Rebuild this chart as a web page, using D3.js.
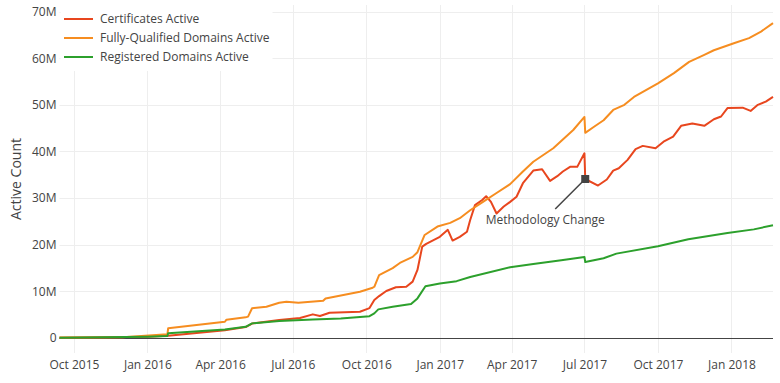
<!DOCTYPE html>
<html>
<head>
<meta charset="utf-8">
<script src="https://cdn.jsdelivr.net/npm/d3@7"></script>
<style>
  html, body { margin: 0; padding: 0; background: #fff; }
  svg { display: block; font-family: "Open Sans", "Noto Sans", sans-serif; }
</style>
</head>
<body>
<svg id="chart" width="780" height="383"></svg>
<script>
// ---------------- DATA (values in millions) ----------------
const certDates = ["2015-09-13","2016-01-01","2016-01-27","2016-04-07","2016-05-03","2016-05-11","2016-06-14","2016-07-10","2016-07-26","2016-08-04","2016-08-16","2016-09-23","2016-10-05","2016-10-11","2016-10-17","2016-10-26","2016-11-07","2016-11-20","2016-11-28","2016-12-04","2016-12-10","2016-12-15","2017-01-01","2017-01-11","2017-01-17","2017-01-26","2017-02-04","2017-02-08","2017-02-14","2017-02-23","2017-02-28","2017-03-06","2017-03-13","2017-03-22","2017-03-30","2017-04-07","2017-04-15","2017-04-28","2017-05-09","2017-05-19","2017-05-28","2017-06-04","2017-06-13","2017-06-22","2017-07-01","2017-07-02","2017-07-18","2017-07-29","2017-08-06","2017-08-13","2017-08-24","2017-09-03","2017-09-12","2017-09-28","2017-10-08","2017-10-20","2017-10-30","2017-11-13","2017-11-28","2017-12-10","2017-12-19","2017-12-27","2018-01-15","2018-01-25","2018-02-03","2018-02-13","2018-02-22"];
const certValues = [0.05,0.3,0.5,1.7,2.36,3.1,3.86,4.3,5.08,4.72,5.42,5.64,6.43,8.15,9.0,10.1,10.9,11.0,12.1,14.6,19.6,20.2,21.7,23.2,20.9,21.7,22.8,25.3,28.5,29.6,30.4,29.2,26.7,28.2,29.2,30.3,33.2,35.9,36.2,33.7,34.7,35.7,36.7,36.7,39.6,34.1,32.7,34.0,35.9,36.4,38.2,40.5,41.2,40.7,42.1,43.2,45.5,46.0,45.5,46.9,47.5,49.3,49.4,48.7,50.0,50.7,51.7];

const fqdnDates = ["2015-09-13","2015-12-01","2016-01-26","2016-01-27","2016-04-07","2016-04-09","2016-05-03","2016-05-06","2016-05-11","2016-05-29","2016-06-14","2016-06-23","2016-07-08","2016-08-08","2016-08-11","2016-09-23","2016-10-09","2016-10-11","2016-10-17","2016-11-03","2016-11-12","2016-11-28","2016-12-04","2016-12-13","2016-12-29","2017-01-14","2017-01-26","2017-02-08","2017-02-24","2017-03-13","2017-03-30","2017-04-15","2017-04-28","2017-05-23","2017-06-17","2017-07-01","2017-07-02","2017-07-13","2017-07-25","2017-08-06","2017-08-20","2017-09-01","2017-10-01","2017-10-21","2017-11-09","2017-11-28","2017-12-10","2018-01-04","2018-01-23","2018-02-07","2018-02-22"];
const fqdnValues = [0.1,0.2,0.8,2.1,3.5,3.95,4.44,4.6,6.4,6.7,7.57,7.8,7.57,8.0,8.5,9.93,10.8,11.0,13.5,15.0,16.1,17.4,18.4,22.1,23.9,24.7,25.7,27.4,29.2,31.1,33.0,35.7,37.8,40.7,44.6,47.4,44.0,45.3,46.7,48.9,50.0,51.7,54.6,56.8,59.2,60.7,61.7,63.2,64.3,65.7,67.5];

const regDates = ["2015-09-13","2016-01-01","2016-01-26","2016-01-27","2016-04-07","2016-05-03","2016-05-11","2016-06-14","2016-07-26","2016-08-30","2016-10-05","2016-10-11","2016-10-16","2016-11-03","2016-11-26","2016-12-04","2016-12-14","2017-01-01","2017-01-22","2017-02-08","2017-03-30","2017-04-28","2017-06-02","2017-07-01","2017-07-02","2017-07-25","2017-08-10","2017-10-01","2017-11-08","2017-12-27","2018-01-29","2018-02-22"];
const regValues = [0.05,0.3,0.45,1.05,1.86,2.42,3.15,3.64,4.0,4.2,4.7,5.3,6.15,6.7,7.3,8.5,11.1,11.7,12.2,13.1,15.2,15.9,16.7,17.4,16.3,17.1,18.1,19.7,21.2,22.5,23.3,24.2];

const seriesNames = ["Certificates Active", "Fully-Qualified Domains Active", "Registered Domains Active"];
const seriesColors = ["#e8461e", "#f68d20", "#2ca02c"];

const xTickDates = ["2015-10-01","2016-01-01","2016-04-01","2016-07-01","2016-10-01","2017-01-01","2017-04-01","2017-07-01","2017-10-01","2018-01-01"];
const xTickLabels = ["Oct 2015","Jan 2016","Apr 2016","Jul 2016","Oct 2016","Jan 2017","Apr 2017","Jul 2017","Oct 2017","Jan 2018"];
const yTickValues = [0,10,20,30,40,50,60,70];
const yTickLabels = ["0","10M","20M","30M","40M","50M","60M","70M"];

const annotationDate = "2017-07-02";
const annotationValue = 34.1;
const annotationText = "Methodology Change";
const yTitle = "Active Count";

// ---------------- CHART ----------------
const parse = d3.utcParse("%Y-%m-%d");
const svg = d3.select("#chart");
const M = { left: 59.5, right: 773, top: 5, bottom: 353 };

const x = d3.scaleUtc()
  .domain([parse("2015-09-13"), parse("2018-02-22")])
  .range([M.left, M.right]);
const y = d3.scaleLinear()
  .domain([-3.2, 71.4])
  .range([M.bottom, M.top]);

const textColor = "#444";

// gridlines
const gx = svg.append("g").attr("class", "grid-x");
gx.selectAll("line").data(xTickDates.map(parse)).join("line")
  .attr("x1", d => Math.round(x(d)) + 0.5).attr("x2", d => Math.round(x(d)) + 0.5)
  .attr("y1", M.top).attr("y2", M.bottom)
  .attr("stroke", "#eee").attr("stroke-width", 1);
const gy = svg.append("g").attr("class", "grid-y");
gy.selectAll("line").data(yTickValues.filter(v => v !== 0)).join("line")
  .attr("x1", M.left).attr("x2", M.right)
  .attr("y1", d => Math.round(y(d)) + 0.5).attr("y2", d => Math.round(y(d)) + 0.5)
  .attr("stroke", "#eee").attr("stroke-width", 1);

// zero line
svg.append("line")
  .attr("x1", M.left).attr("x2", M.right)
  .attr("y1", Math.round(y(0)) + 0.5).attr("y2", Math.round(y(0)) + 0.5)
  .attr("stroke", "#444").attr("stroke-width", 1);

// axes (tick labels only, via d3 axes)
const xAxis = d3.axisBottom(x)
  .tickValues(xTickDates.map(parse))
  .tickFormat((d, i) => xTickLabels[i])
  .tickSize(0).tickPadding(0);
const xg = svg.append("g").attr("transform", `translate(0, ${M.bottom})`).call(xAxis);
xg.select(".domain").remove();
xg.selectAll("text").attr("fill", textColor).attr("font-size", 12)
  .attr("font-family", "'Open Sans', sans-serif").attr("dy", "15.5px");

const yAxis = d3.axisLeft(y)
  .tickValues(yTickValues)
  .tickFormat((d, i) => yTickLabels[i])
  .tickSize(0).tickPadding(3);
const yg = svg.append("g").attr("transform", `translate(${M.left}, 0)`).call(yAxis);
yg.select(".domain").remove();
yg.selectAll("text").attr("fill", textColor).attr("font-size", 12)
  .attr("font-family", "'Open Sans', sans-serif");

// y title
svg.append("text")
  .attr("transform", `translate(21, ${(M.top + M.bottom) / 2}) rotate(-90)`)
  .attr("text-anchor", "middle")
  .attr("fill", textColor).attr("font-size", 14)
  .text(yTitle);

// lines
const series = [
  { name: seriesNames[0], color: seriesColors[0], data: certDates.map((d, i) => ({ date: parse(d), value: certValues[i] })) },
  { name: seriesNames[1], color: seriesColors[1], data: fqdnDates.map((d, i) => ({ date: parse(d), value: fqdnValues[i] })) },
  { name: seriesNames[2], color: seriesColors[2], data: regDates.map((d, i) => ({ date: parse(d), value: regValues[i] })) }
];
const line = d3.line().x(d => x(d.date)).y(d => y(d.value));
svg.append("g").selectAll("path").data(series).join("path")
  .attr("d", d => line(d.data))
  .attr("fill", "none")
  .attr("stroke", d => d.color)
  .attr("stroke-width", 2)
  .attr("stroke-linejoin", "round");

// annotation
const ax0 = x(parse(annotationDate)), ay0 = y(annotationValue);
const tailX = ax0 - 30, tailY = ay0 + 30;
svg.append("line")
  .attr("x1", ax0).attr("y1", ay0).attr("x2", tailX).attr("y2", tailY)
  .attr("stroke", "#444").attr("stroke-width", 1.5);
svg.append("rect")
  .attr("x", ax0 - 4).attr("y", ay0 - 4).attr("width", 8).attr("height", 8)
  .attr("fill", "#444");
svg.append("text")
  .attr("x", tailX - 10).attr("y", tailY + 15)
  .attr("text-anchor", "middle")
  .attr("fill", textColor).attr("font-size", 12)
  .text(annotationText);

// legend
const lg = svg.append("g");
lg.append("rect").attr("x", M.left + 1).attr("y", M.top).attr("width", 212).attr("height", 66).attr("fill", "#fff");
const items = lg.selectAll("g.item").data(series).join("g")
  .attr("transform", (d, i) => `translate(0, ${19 + i * 19})`);
items.append("line").attr("x1", 64).attr("x2", 93).attr("y1", 0).attr("y2", 0)
  .attr("stroke", d => d.color).attr("stroke-width", 2);
items.append("text").attr("x", 100).attr("y", 0).attr("dy", "0.35em")
  .attr("fill", textColor).attr("font-size", 12)
  .text(d => d.name);
</script>
</body>
</html>
